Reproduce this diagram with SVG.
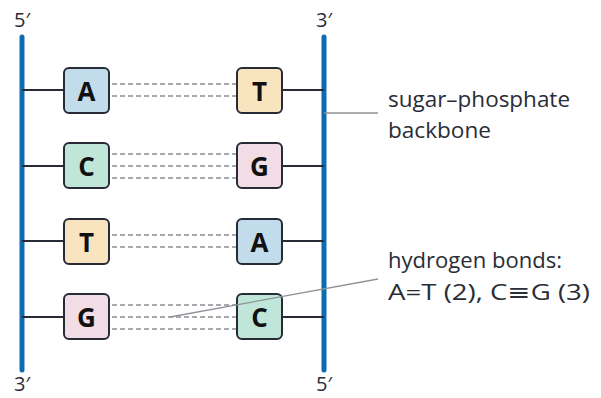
<svg xmlns="http://www.w3.org/2000/svg" width="601" height="398" viewBox="0 0 601 398">
  <style>
    .strand { stroke: #0b6db0; stroke-width: 5; stroke-linecap: round; fill: none; }
    .rung { stroke: #262b36; stroke-width: 2; fill: none; }
    .hb { stroke: #8a8d94; stroke-width: 1.6; stroke-dasharray: 5 3; fill: none; }
    .lead { stroke: #8f9296; stroke-width: 1.3; fill: none; }
    .box { stroke: #262b36; stroke-width: 2; }
    .base { font-family: "Open Sans", "DejaVu Sans", sans-serif; font-weight: bold; font-size: 26px; fill: #111; text-anchor: middle; dominant-baseline: central; }
    .end { font-family: "Open Sans", "DejaVu Sans", sans-serif; font-size: 20px; fill: #2a2d36; text-anchor: middle; }
    .note { font-family: "Open Sans", "DejaVu Sans", sans-serif; font-size: 22.5px; fill: #2a2d36; }
    .A { fill: #c3dcec; } .T { fill: #f8e5c0; } .C { fill: #c0e6d9; } .G { fill: #f2dce6; }
  </style>

  <!-- backbones, rungs and hydrogen bonds -->
  <g id="connectors">
    <line class="strand" x1="22" y1="37" x2="22" y2="370"/>
    <line class="strand" x1="324" y1="37" x2="324" y2="370"/>

    <line class="rung" x1="22" y1="90" x2="64" y2="90"/>
    <line class="rung" x1="282" y1="90" x2="324" y2="90"/>
    <line class="rung" x1="22" y1="166" x2="64" y2="166"/>
    <line class="rung" x1="282" y1="166" x2="324" y2="166"/>
    <line class="rung" x1="22" y1="241" x2="64" y2="241"/>
    <line class="rung" x1="282" y1="241" x2="324" y2="241"/>
    <line class="rung" x1="22" y1="317" x2="64" y2="317"/>
    <line class="rung" x1="282" y1="317" x2="324" y2="317"/>

    <!-- two bonds for A=T, three for C≡G -->
    <line class="hb" x1="112" y1="84" x2="236" y2="84"/>
    <line class="hb" x1="112" y1="96" x2="236" y2="96"/>
    <line class="hb" x1="112" y1="154" x2="236" y2="154"/>
    <line class="hb" x1="112" y1="166" x2="236" y2="166"/>
    <line class="hb" x1="112" y1="178" x2="236" y2="178"/>
    <line class="hb" x1="112" y1="235" x2="236" y2="235"/>
    <line class="hb" x1="112" y1="247" x2="236" y2="247"/>
    <line class="hb" x1="112" y1="305" x2="236" y2="305"/>
    <line class="hb" x1="112" y1="317" x2="236" y2="317"/>
    <line class="hb" x1="112" y1="329" x2="236" y2="329"/>
  </g>

  <!-- strand end labels -->
  <g id="ends">
    <text class="end" x="22" y="27">5′</text>
    <text class="end" x="324" y="27">3′</text>
    <text class="end" x="22" y="391">3′</text>
    <text class="end" x="324" y="391">5′</text>
  </g>

  <!-- left strand bases -->
  <g id="base-A1"><rect class="box A" x="64" y="68" width="45" height="45" rx="5"/><text class="base" x="86.5" y="91">A</text></g>
  <g id="base-C1"><rect class="box C" x="64" y="143" width="45" height="45" rx="5"/><text class="base" x="86.5" y="166">C</text></g>
  <g id="base-T1"><rect class="box T" x="64" y="219" width="45" height="45" rx="5"/><text class="base" x="86.5" y="242">T</text></g>
  <g id="base-G1"><rect class="box G" x="64" y="294" width="45" height="45" rx="5"/><text class="base" x="86.5" y="317">G</text></g>

  <!-- right strand bases -->
  <g id="base-T2"><rect class="box T" x="237" y="68" width="45" height="45" rx="5"/><text class="base" x="259.5" y="91">T</text></g>
  <g id="base-G2"><rect class="box G" x="237" y="143" width="45" height="45" rx="5"/><text class="base" x="259.5" y="166">G</text></g>
  <g id="base-A2"><rect class="box A" x="237" y="219" width="45" height="45" rx="5"/><text class="base" x="259.5" y="242">A</text></g>
  <g id="base-C2"><rect class="box C" x="237" y="294" width="45" height="45" rx="5"/><text class="base" x="259.5" y="317">C</text></g>

  <!-- annotation leaders, drawn over the bases -->
  <g id="leaders">
    <line class="lead" x1="324" y1="113" x2="378" y2="113"/>
    <line class="lead" x1="170" y1="317" x2="378" y2="279"/>
  </g>

  <!-- annotations -->
  <g id="label-backbone">
    <text class="note" x="388" y="107" textLength="182" lengthAdjust="spacingAndGlyphs">sugar–phosphate</text>
    <text class="note" x="388" y="138" textLength="103" lengthAdjust="spacingAndGlyphs">backbone</text>
  </g>
  <g id="label-hbonds">
    <text class="note" x="388" y="268" textLength="174" lengthAdjust="spacingAndGlyphs">hydrogen bonds:</text>
    <text class="note" x="388" y="300" textLength="202" lengthAdjust="spacingAndGlyphs">A=T (2), C≡G (3)</text>
  </g>
</svg>
